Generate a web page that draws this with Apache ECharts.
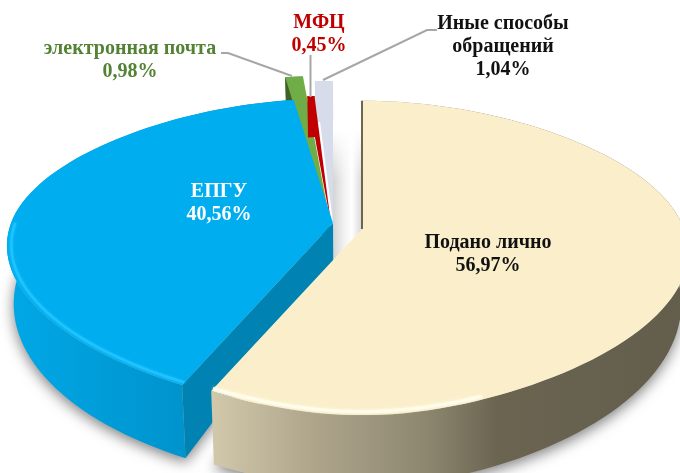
<!DOCTYPE html>
<html>
<head>
<meta charset="utf-8">
<script src="https://cdn.jsdelivr.net/npm/echarts@6/dist/echarts.min.js"></script>
<style>
html,body{margin:0;padding:0;background:#fff;}
#chart{width:680px;height:473px;}
</style>
</head>
<body>
<div id="chart"></div>
<script>
// clockwise from 12 o'clock, same order as the source table
const sliceNames = ['Подано лично', 'ЕПГУ', 'электронная почта', 'МФЦ', 'Иные способы\nобращений'];
const sliceValues = [56.97, 40.56, 0.98, 0.45, 1.04];

const topColors = ['#FBEFCB', '#00ADEF', '#70AD47', '#C00000', '#D6DCE9'];
const cutColors = ['#6B6650', '#0082B2', '#3F6126', '#C00000', '#D6DCE9'];
const labelColors = ['#111111', '#FFFFFF', '#548235', '#C00000', '#111111'];

// layout of the exploded slices
const apexes = [[362, 229], [333, 223], [330, 222], [331, 224], [333, 222]];
const radiusScale = [1, 1, 1.14, 1, 1.1];
const backScale = [1, 0.97, 1, 1, 1];
const drawOrder = [4, 2, 3, 1, 0];
// which slices show the wall of their starting cut
const showCut = [false, true, true, false, false];

const RX = 322, RY = 150, K = 0.17, VANISH_X = 345;

// slice angles, in degrees
const total = sliceValues.reduce((a, b) => a + b, 0);
let acc = 0;
const angles = sliceValues.map(v => {
  const from = acc;
  acc += v / total * 360;
  return [from, acc];
});

// pseudo perspective: z=0 top plane, z=1 bottom plane
const project = (i, deg, r, z) => {
  const a = deg * Math.PI / 180;
  const u = r * Math.sin(a), v = -r * Math.cos(a);
  const s = 1 / (1 - K * v);
  const rx = RX * (1 - 0.08 * v * v);
  const front = v > 0 ? 1 + 0.03 * Math.pow(v, 12) : backScale[i];
  let x = apexes[i][0] + rx * u * s * radiusScale[i];
  let y = apexes[i][1] + RY * v * s * radiusScale[i] * front;
  if (z) {
    y += 40 + 30 * Math.max(v, 0) + (u < 0 ? 14 : 8) * Math.abs(u);
    x += (VANISH_X - x) * 0.02;
  }
  return [x, y];
};

const arc = (i, from, to, r, z) => {
  const n = Math.max(2, Math.ceil(Math.abs(to - from) / 2));
  const pts = [];
  for (let k = 0; k <= n; k++) pts.push(project(i, from + (to - from) * k / n, r, z));
  return pts;
};

const gradX = stops => new echarts.graphic.LinearGradient(0, 0, 1, 0,
  stops.map(s => ({ offset: s[0], color: s[1] })));

const wallFill = i => {
  if (i === 0) return gradX([[0, '#D2C9AC'], [0.2, '#B0A78D'], [0.45, '#8E8770'], [0.6, '#6A6451'], [1, '#635E4C']]);
  if (i === 1) return gradX([[0, '#00A8E6'], [0.5, '#0097D2'], [1, '#0086BA']]);
  return cutColors[i];
};

const renderShadow = (params, api) => {
  const i = api.value(0);
  const children = [];
  if (i === 0 || i === 1) {
    const [from, to] = angles[i];
    children.push({
      type: 'polygon',
      shape: { points: [project(i, 0, 0, 1)].concat(arc(i, from, to, 1, 1)) },
      style: { fill: '#bbbbbb', shadowBlur: 14, shadowColor: 'rgba(0,0,0,0.5)', shadowOffsetY: 4 }
    });
  }
  if (i === 0) {
    // pale inner wall seen through the gap between the two big slices
    const left = apexes[1][0], right = apexes[0][0];
    children.push({
      type: 'polygon',
      shape: { points: [[left, 130], [right, 130], [right, apexes[0][1] + 10], [left, apexes[1][1] + 40]] },
      style: { fill: gradX([[0, '#D4D4D4'], [0.35, '#EFEFEF'], [0.65, '#FFFFFF'], [1, '#D8D8D8']]) }
    });
    children.push({
      type: 'rect',
      shape: { x: left, y: 130, width: right - left, height: 50 },
      style: {
        fill: new echarts.graphic.LinearGradient(0, 0, 0, 1, [
          { offset: 0, color: 'rgba(255,255,255,1)' },
          { offset: 1, color: 'rgba(255,255,255,0)' }
        ])
      }
    });
  }
  return { type: 'group', children };
};

const renderSlice = (params, api) => {
  const i = api.value(0);
  const [from, to] = angles[i];
  const children = [];

  // outer wall
  const topRim = arc(i, from, to, 1, 0);
  const bottomRim = arc(i, from, to, 1, 1).reverse();
  children.push({ type: 'polygon', shape: { points: topRim.concat(bottomRim) }, style: { fill: wallFill(i) } });

  // cut face
  if (showCut[i]) {
    children.push({
      type: 'polygon',
      shape: { points: [project(i, from, 0, 0), project(i, from, 1, 0), project(i, from, 1, 1), project(i, from, 0, 1)] },
      style: { fill: cutColors[i] }
    });
  }

  // top face
  children.push({
    type: 'polygon',
    shape: { points: [project(i, 0, 0, 0)].concat(topRim) },
    style: { fill: topColors[i] }
  });

  // bevel along the rim
  if (i === 1) {
    children.push({
      type: 'polyline',
      shape: { points: arc(i, from, from + 65, 0.987, 0) },
      style: { fill: 'none', stroke: '#1FC3FF', lineWidth: 2.5, shadowBlur: 3, shadowColor: '#1FC3FF' }
    });
  }
  if (i === 0) {
    children.push({
      type: 'polyline',
      shape: { points: arc(i, to, to - 45, 0.987, 0) },
      style: { fill: 'none', stroke: '#FFFCEB', lineWidth: 3, shadowBlur: 3, shadowColor: '#FFFCEB' }
    });
    children.push({
      type: 'polyline',
      shape: { points: [project(i, from, 0, 0), project(i, from, 1, 0)] },
      style: { fill: 'none', stroke: cutColors[0], lineWidth: 2 }
    });
  }
  return { type: 'group', children };
};

const pct = v => v.toFixed(2).replace('.', ',') + '%';

const labelPos = [[488, 254], [219, 203], [130, 60], [319, 34], [503, 47]];
const leaders = [null, null,
  [[221, 53], [228, 53], [292, 76]],
  [[310.5, 55], [310.5, 97]],
  [[323, 80], [427, 30], [437, 30]]];

const graphic = [];
leaders.forEach(pts => {
  if (pts) graphic.push({
    type: 'polyline', z: 50, shape: { points: pts },
    style: { fill: 'none', stroke: '#A6A6A6', lineWidth: 2 }
  });
});
sliceNames.forEach((name, i) => {
  graphic.push({
    type: 'text', z: 60, x: labelPos[i][0], y: labelPos[i][1],
    style: {
      text: name + '\n' + pct(sliceValues[i]),
      fill: labelColors[i],
      font: 'bold 20px "Liberation Serif", serif',
      lineHeight: 23,
      align: 'center',
      verticalAlign: 'middle'
    }
  });
});

const chart = echarts.init(document.getElementById('chart'));
const drawData = drawOrder.map(i => [i, sliceValues[i]]);
chart.setOption({
  animation: false,
  graphic,
  series: [
    { type: 'custom', coordinateSystem: 'none', z: 1, silent: true, data: drawData, renderItem: renderShadow },
    { type: 'custom', coordinateSystem: 'none', z: 2, silent: true, data: drawData, renderItem: renderSlice }
  ]
});
</script>
</body>
</html>
